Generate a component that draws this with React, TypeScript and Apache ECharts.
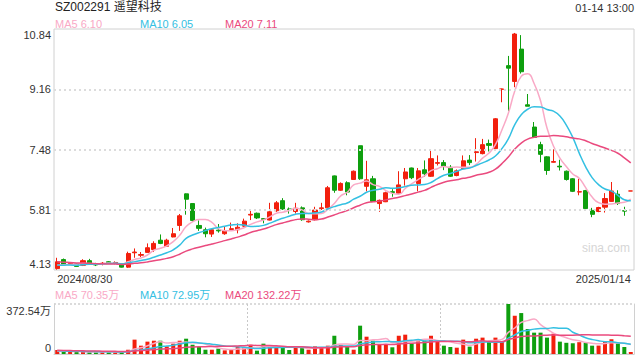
import React, { useEffect, useRef } from "react";
import * as echarts from "echarts";

const dates = [
  "2024/08/30",
  "2024/09/02", "2024/09/03", "2024/09/04", "2024/09/05", "2024/09/06", "2024/09/09", "2024/09/10", "2024/09/11", "2024/09/12", "2024/09/13",
  "2024/09/18", "2024/09/19", "2024/09/20", "2024/09/23", "2024/09/24", "2024/09/25", "2024/09/26", "2024/09/27", "2024/09/30",
  "2024/10/08", "2024/10/09", "2024/10/10", "2024/10/11", "2024/10/14", "2024/10/15", "2024/10/16", "2024/10/17", "2024/10/18",
  "2024/10/21", "2024/10/22", "2024/10/23", "2024/10/24", "2024/10/25", "2024/10/28", "2024/10/29", "2024/10/30", "2024/10/31",
  "2024/11/01", "2024/11/04", "2024/11/05", "2024/11/06", "2024/11/07", "2024/11/08", "2024/11/11", "2024/11/12", "2024/11/13",
  "2024/11/14", "2024/11/15", "2024/11/18", "2024/11/19", "2024/11/20", "2024/11/21", "2024/11/22", "2024/11/25", "2024/11/26",
  "2024/11/27", "2024/11/28", "2024/11/29",
  "2024/12/02", "2024/12/03", "2024/12/04", "2024/12/05", "2024/12/06", "2024/12/09", "2024/12/10", "2024/12/11", "2024/12/12",
  "2024/12/13", "2024/12/16", "2024/12/17", "2024/12/18", "2024/12/19", "2024/12/20", "2024/12/23", "2024/12/24", "2024/12/25",
  "2024/12/26", "2024/12/27", "2024/12/30", "2024/12/31",
  "2025/01/02", "2025/01/03", "2025/01/06", "2025/01/07", "2025/01/08", "2025/01/09", "2025/01/10", "2025/01/13", "2025/01/14",
];

const opens = [
  4.17, 4.42, 4.30, 4.30, 4.26, 4.39, 4.29, 4.31, 4.36, 4.32,
  4.30, 4.21, 4.61, 4.54, 4.62, 4.70, 4.96, 4.79, 5.05, 5.37,
  6.25, 5.98, 5.37, 5.25, 5.13, 5.24, 5.14, 5.26, 5.25, 5.35,
  5.66, 5.71, 5.56, 5.52, 5.78, 6.06, 5.83, 5.76, 5.86, 5.47,
  5.53, 5.84, 5.86, 6.75, 6.35, 6.56, 6.65, 7.59, 6.46, 6.67,
  5.98, 6.03, 6.31, 6.27, 6.67, 6.97, 6.54, 6.92, 6.74, 7.10,
  7.12, 6.99, 6.76, 6.95, 7.19, 7.40, 7.37, 7.65, 7.51, 9.16,
  9.82, 9.38, 10.28, 8.73, 8.11, 7.62, 7.28, 7.13, 7.02, 6.88,
  6.67, 6.30, 6.34, 5.79, 5.76, 5.88, 6.04, 6.24, 5.78, 6.33,
];
const closes = [
  4.36, 4.28, 4.32, 4.23, 4.39, 4.32, 4.27, 4.32, 4.33, 4.34,
  4.21, 4.59, 4.63, 4.56, 4.75, 4.87, 4.87, 4.96, 5.14, 5.64,
  6.10, 5.51, 5.29, 5.14, 5.25, 5.22, 5.23, 5.28, 5.32, 5.49,
  5.68, 5.58, 5.54, 5.75, 6.00, 5.83, 5.81, 5.85, 5.53, 5.49,
  5.80, 5.86, 6.42, 6.35, 6.54, 6.30, 6.88, 6.67, 6.64, 6.04,
  6.07, 6.28, 6.29, 6.50, 6.86, 6.70, 6.89, 6.81, 7.23, 7.12,
  7.02, 6.74, 6.89, 7.17, 7.12, 7.42, 7.62, 7.60, 8.34, 9.17,
  9.75, 10.70, 9.65, 8.69, 7.82, 7.35, 6.90, 7.15, 7.00, 6.65,
  6.32, 6.31, 5.84, 5.68, 5.87, 6.12, 6.33, 5.98, 5.77, 6.33,
];
const lows = [
  4.14, 4.25, 4.28, 4.22, 4.24, 4.27, 4.24, 4.26, 4.30, 4.29,
  4.20, 4.19, 4.47, 4.49, 4.62, 4.63, 4.85, 4.77, 5.04, 5.22,
  5.67, 5.47, 5.22, 5.04, 5.05, 5.17, 5.11, 5.22, 5.15, 5.33,
  5.52, 5.55, 5.43, 5.51, 5.75, 5.80, 5.70, 5.70, 5.50, 5.45,
  5.51, 5.80, 5.86, 6.28, 6.33, 6.21, 6.64, 6.64, 6.32, 6.03,
  5.75, 6.02, 6.17, 6.26, 6.48, 6.66, 6.32, 6.72, 6.72, 7.04,
  6.91, 6.72, 6.74, 6.93, 7.05, 7.15, 7.35, 7.43, 7.48, 8.80,
  8.56, 9.22, 9.60, 8.69, 7.82, 7.13, 6.78, 7.12, 6.90, 6.62,
  6.30, 6.21, 5.82, 5.60, 5.74, 5.73, 6.03, 5.94, 5.64, 6.33,
];
const highs = [
  4.47, 4.45, 4.35, 4.32, 4.43, 4.44, 4.33, 4.35, 4.38, 4.37,
  4.31, 4.64, 4.73, 4.63, 4.87, 4.93, 5.12, 5.00, 5.30, 5.69,
  6.26, 5.98, 5.51, 5.31, 5.27, 5.41, 5.34, 5.45, 5.43, 5.56,
  5.80, 5.73, 5.57, 6.00, 6.05, 6.13, 5.87, 6.00, 5.90, 5.51,
  5.89, 6.00, 6.47, 6.76, 6.57, 6.60, 6.90, 7.59, 7.17, 6.75,
  6.09, 6.31, 6.38, 6.88, 6.97, 6.98, 6.97, 7.18, 7.49, 7.32,
  7.19, 7.05, 6.93, 7.32, 7.33, 7.80, 7.78, 7.76, 8.36, 9.18,
  10.09, 10.73, 10.67, 9.03, 8.25, 7.70, 7.30, 7.49, 7.20, 6.90,
  6.69, 6.67, 6.36, 5.86, 5.89, 6.27, 6.58, 6.35, 5.89, 6.33,
];
// volumes in 万股
const volumes = [
  30, 15, 15, 15, 15, 15, 15, 15, 15, 15,
  15, 32, 107, 62, 92, 99, 99, 57, 77, 99,
  114, 69, 52, 32, 32, 40, 27, 32, 52, 45,
  69, 25, 77, 62, 52, 52, 30, 52, 52, 32,
  57, 45, 62, 136, 69, 57, 32, 211, 129, 99,
  69, 69, 50, 136, 144, 79, 94, 99, 136, 99,
  62, 52, 47, 107, 55, 114, 122, 94, 122, 94,
  372.54, 285, 305, 186, 159, 159, 122, 151, 92, 83.4,
  80, 88, 85, 62, 62.75, 95, 110, 80, 52, 14.75,
];
// data before the visible window, used only for moving averages
const prevCloses = [4.52, 4.50, 4.47, 4.49, 4.45, 4.43, 4.44, 4.40, 4.41, 4.39, 4.33, 4.30, 4.27, 4.25, 4.22, 4.24, 4.26, 4.21, 4.26];
const prevVolumes = [38, 35, 42, 30, 33, 28, 36, 31, 27, 25, 30, 24, 22, 26, 20, 23, 19, 21, 18];

const priceTicks = [4.13, 5.81, 7.48, 9.16, 10.84];
const volumeMax = 372.54;
const maPeriods = [5, 10, 20];
const maLegendPrice = ["6.10", "6.05", "7.11"];
const maLegendVolume = ["70.35万", "72.95万", "132.22万"];

const UP = "#f21f0d";
const DOWN = "#0e9f0e";
const MA_COLORS = ["#f9a9c6", "#34c0e2", "#ea4a7e"];
const FONT = 'Arial, "Liberation Sans", "Noto Sans CJK SC", sans-serif';

function movingAverage(prev: number[], vals: number[], n: number) {
  const all = prev.concat(vals);
  const off = prev.length;
  return vals.map((_, i) => {
    const end = off + i;
    let s = 0;
    for (let k = end - n + 1; k <= end; k++) s += all[k];
    return +(s / n).toFixed(4);
  });
}

export default function App() {
  const ref = useRef<HTMLDivElement>(null);
  useEffect(() => {
    const chart = echarts.init(ref.current!, null, { renderer: "svg" });
    const candles = opens.map((o, i) => [o, closes[i], lows[i], highs[i]]);
    const volData = volumes.map((v, i) => ({
      value: v,
      itemStyle: { color: closes[i] >= opens[i] ? UP : DOWN },
    }));
    const labelStyle = { fontSize: 11, color: "#333", fontFamily: FONT };
    const legendTexts = (y: number, vals: string[]) =>
      maPeriods.map((p, k) => ({
        type: "text",
        left: [55, 140, 225][k],
        top: y,
        silent: true,
        style: { text: `MA${p} ${vals[k]}`, fill: MA_COLORS[k], fontSize: 11, fontFamily: FONT },
      }));

    const option: any = {
      animation: false,
      textStyle: { fontFamily: FONT },
      grid: [
        { left: 54, right: 6, top: 29, height: 241, show: true, borderColor: "#d0d0d0", borderWidth: 1 },
        { left: 54, right: 6, top: 304, height: 50 },
      ],
      xAxis: [
        {
          type: "category",
          gridIndex: 0,
          data: dates,
          boundaryGap: true,
          axisLine: { show: false },
          axisTick: { show: false },
          splitLine: { show: false },
          axisLabel: {
            ...labelStyle,
            margin: 3,
            interval: (i: number) => i === 0 || i === dates.length - 1,
            showMinLabel: true,
            showMaxLabel: true,
            alignMinLabel: "left",
            alignMaxLabel: "right",
          },
        },
        {
          type: "category",
          gridIndex: 1,
          data: dates,
          boundaryGap: true,
          axisLine: { show: true, lineStyle: { color: "#d0d0d0" } },
          axisTick: { show: false },
          axisLabel: { show: false },
          splitLine: {
            show: true,
            interval: (i: number) => i % 30 === 0 && i > 0,
            lineStyle: { color: "#c8c8c8", type: [2, 2], width: 1 },
          },
        },
      ],
      yAxis: [
        {
          type: "value",
          gridIndex: 0,
          min: priceTicks[0],
          max: priceTicks[priceTicks.length - 1],
          axisLine: { show: false },
          axisTick: { show: false },
          splitLine: { show: false },
          axisLabel: {
            ...labelStyle,
            margin: 3,
            customValues: priceTicks,
            formatter: (v: number) => {
              const idx = priceTicks.findIndex((t) => Math.abs(t - v) < 0.005);
              const s = priceTicks[idx].toFixed(2);
              if (idx === priceTicks.length - 1) return `{t|${s}}`;
              if (idx === 0) return `{b|${s}}`;
              return `{m|${s}}`;
            },
            rich: {
              t: { ...labelStyle, padding: [12, 0, 0, 0] },
              b: { ...labelStyle, padding: [0, 0, 13, 0] },
              m: { ...labelStyle },
            },
          },
        },
        {
          type: "value",
          gridIndex: 1,
          min: 0,
          max: volumeMax,
          interval: volumeMax,
          axisLine: { show: true, lineStyle: { color: "#d0d0d0" } },
          axisTick: { show: false },
          splitLine: { show: true, lineStyle: { color: "#d0d0d0", type: [2, 2], width: 1.5 } },
          axisLabel: {
            ...labelStyle,
            margin: 3,
            formatter: (v: number) => (v < 1 ? "{b|0}" : `{t|${volumeMax.toFixed(2)}万}`),
            rich: {
              t: { ...labelStyle, padding: [14, 0, 0, 0] },
              b: { ...labelStyle, padding: [0, 0, 12, 0] },
            },
          },
        },
        {
          type: "value",
          gridIndex: 1,
          position: "right",
          min: 0,
          max: volumeMax,
          axisLine: { show: true, lineStyle: { color: "#d0d0d0" } },
          axisTick: { show: false },
          axisLabel: { show: false },
          splitLine: { show: false },
        },
      ],
      series: [
        {
          type: "candlestick",
          xAxisIndex: 0,
          yAxisIndex: 0,
          data: candles,
          barWidth: "70%",
          itemStyle: { color: UP, color0: DOWN, borderColor: UP, borderColor0: DOWN, borderWidth: 1 },
          markLine: {
            silent: true,
            symbol: ["none", "none"],
            label: { show: false },
            lineStyle: { color: "#dcdcdc", type: [2, 3], width: 2 },
            data: priceTicks.slice(1, -1).map((t) => ({ yAxis: t })),
          },
          z: 2,
        },
        ...maPeriods.map((p, k) => ({
          type: "line",
          xAxisIndex: 0,
          yAxisIndex: 0,
          data: movingAverage(prevCloses, closes, p),
          showSymbol: false,
          smooth: true,
          lineStyle: { color: MA_COLORS[k], width: 1.5 },
          itemStyle: { color: MA_COLORS[k] },
          z: 3,
        })),
        {
          type: "bar",
          xAxisIndex: 1,
          yAxisIndex: 1,
          data: volData,
          barWidth: "62%",
        },
        ...maPeriods.map((p, k) => ({
          type: "line",
          xAxisIndex: 1,
          yAxisIndex: 1,
          data: movingAverage(prevVolumes, volumes, p),
          showSymbol: false,
          smooth: true,
          lineStyle: { color: MA_COLORS[k], width: 1.5 },
          itemStyle: { color: MA_COLORS[k] },
          z: 3,
        })),
      ],
      graphic: [
        {
          type: "text",
          left: 55,
          top: 1,
          silent: true,
          style: { text: "SZ002291 遥望科技", fill: "#222", fontSize: 12, fontFamily: FONT },
        },
        {
          type: "text",
          right: 6,
          top: 2,
          silent: true,
          style: { text: "01-14 13:00", fill: "#333", fontSize: 11, fontFamily: FONT },
        },
        ...legendTexts(18, maLegendPrice),
        ...legendTexts(289, maLegendVolume),
        {
          type: "text",
          left: 582,
          top: 242,
          silent: true,
          style: { text: "sina.com", fill: "#d6d6d6", fontSize: 12, fontFamily: FONT },
        },
      ],
    };
    chart.setOption(option);
    return () => chart.dispose();
  }, []);
  return (
    <div
      ref={ref}
      style={{ position: "absolute", left: 0, top: 0, width: 640, height: 360, background: "#fff" }}
    />
  );
}
